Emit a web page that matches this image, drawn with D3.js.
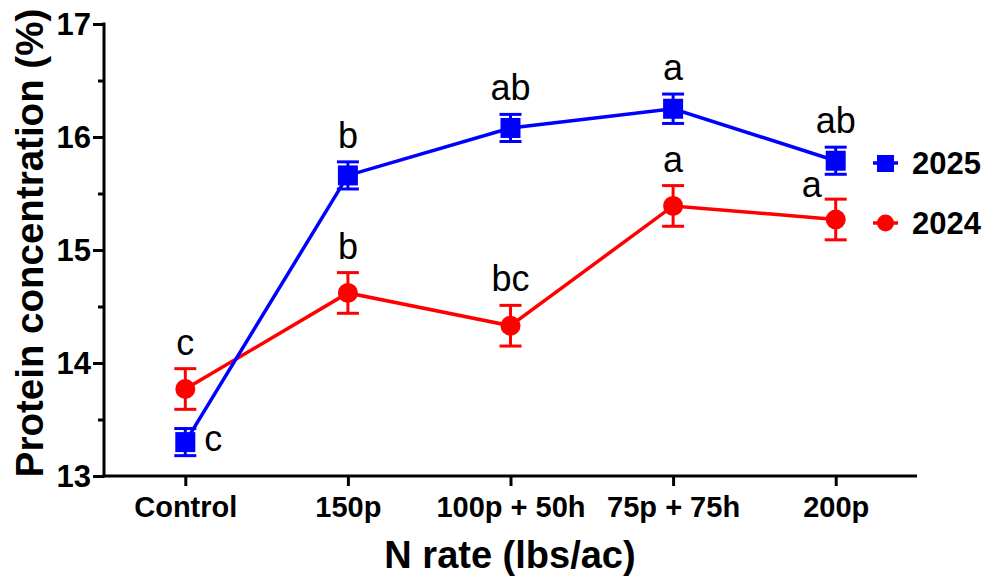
<!DOCTYPE html>
<html><head><meta charset="utf-8">
<script src="https://cdn.jsdelivr.net/npm/d3@7"></script>
<style>body{margin:0;background:#fff}svg{display:block}text{font-family:"Liberation Sans",Arial,sans-serif}</style>
</head><body><svg id="c" width="985" height="577"></svg>
<script>
const categories = ["Control","150p","100p + 50h","75p + 75h","200p"];
const mean2025 = [13.30,15.66,16.08,16.25,15.79];
const err2025  = [0.12,0.12,0.12,0.13,0.12];
const lab2025  = ["c","b","ab","a","ab"];
const mean2024 = [13.77,14.62,14.33,15.39,15.27];
const err2024  = [0.18,0.18,0.18,0.18,0.18];
const lab2024  = ["c","b","bc","a","a"];
const yTicks = [13,14,15,16,17];
const yMinor = [13.5,14.5,15.5,16.5];
const seriesNames = ["2025","2024"];

const svg = d3.select("#c");
const x = d3.scalePoint().domain(categories).range([104,917]).padding(0.5);
const y = d3.scaleLinear().domain([13,17]).range([476,24]);

// axes
const yAx = svg.append("g").attr("transform","translate(104,0)")
  .call(d3.axisLeft(y).tickValues(yTicks).tickFormat(d3.format("d")).tickSize(11).tickSizeOuter(0));
svg.append("g").attr("transform","translate(104,0)")
  .call(d3.axisLeft(y).tickValues(yMinor).tickFormat("").tickSize(6).tickSizeOuter(0))
  .select(".domain").remove();
const xAx = svg.append("g").attr("transform","translate(0,476)")
  .call(d3.axisBottom(x).tickSize(10).tickSizeOuter(0));
svg.selectAll(".domain").attr("stroke","#000").attr("stroke-width",3);
svg.selectAll(".tick line").attr("stroke","#000").attr("stroke-width",3);
yAx.selectAll(".domain").attr("d","M0,"+(y(17)-1.5)+"V"+(y(13)+1.5));
yAx.selectAll(".tick text").attr("font-size",31).attr("font-weight","bold").attr("fill","#000")
  .attr("x",-13).attr("dy","0.35em");
xAx.selectAll(".domain").attr("d","M"+(104-1.5)+",0H917");
xAx.selectAll(".tick text").attr("font-size",29).attr("font-weight","bold").attr("fill","#000")
  .attr("y",20).attr("dy","0.71em");

// titles
svg.append("text").attr("x",510).attr("y",568).attr("text-anchor","middle")
  .attr("font-size",38).attr("font-weight","bold").text("N rate (lbs/ac)");
svg.append("text").attr("transform","translate(43,243) rotate(-90)").attr("text-anchor","middle")
  .attr("font-size",38.5).attr("font-weight","bold").text("Protein concentration (%)");

function drawSeries(means, errs, color, shape){
  const g = svg.append("g");
  const line = d3.line().x((d,i)=>x(categories[i])).y(d=>y(d));
  g.append("path").datum(means).attr("d",line).attr("fill","none").attr("stroke",color).attr("stroke-width",3.5);
  means.forEach((m,i)=>{
    const cx = x(categories[i]), t = y(m+errs[i]), b = y(m-errs[i]);
    g.append("line").attr("x1",cx).attr("x2",cx).attr("y1",t).attr("y2",b).attr("stroke",color).attr("stroke-width",3);
    [t,b].forEach(yy=>g.append("line").attr("x1",cx-11).attr("x2",cx+11).attr("y1",yy).attr("y2",yy).attr("stroke",color).attr("stroke-width",3));
    if(shape==="square") g.append("rect").attr("x",cx-10).attr("y",y(m)-10).attr("width",20).attr("height",20).attr("fill",color);
    else g.append("circle").attr("cx",cx).attr("cy",y(m)).attr("r",10).attr("fill",color);
  });
}
drawSeries(mean2024, err2024, "#ff0000", "circle");
drawSeries(mean2025, err2025, "#0000ff", "square");

// significance letters
function letters(means, errs, labs, special){
  labs.forEach((l,i)=>{
    let lx = x(categories[i]), ly = y(means[i]+errs[i]) - 14;
    if(special[i]){ lx += special[i][0]; ly = y(means[i]) + special[i][1]; }
    svg.append("text").attr("x",lx).attr("y",ly).attr("text-anchor","middle")
      .attr("font-size",36).attr("fill","#000").text(l);
  });
}
letters(mean2025, err2025, lab2025, {0:[28,9]});
letters(mean2024, err2024, lab2024, {4:[-24,-22]});

// legend
const leg = [{n:seriesNames[0],c:"#0000ff",s:"square",y:163},{n:seriesNames[1],c:"#ff0000",s:"circle",y:223}];
leg.forEach(d=>{
  svg.append("line").attr("x1",873).attr("x2",898).attr("y1",d.y).attr("y2",d.y).attr("stroke",d.c).attr("stroke-width",3.5);
  if(d.s==="square") svg.append("rect").attr("x",877).attr("y",d.y-8).attr("width",17).attr("height",17).attr("fill",d.c);
  else svg.append("circle").attr("cx",885.5).attr("cy",d.y).attr("r",8.5).attr("fill",d.c);
  svg.append("text").attr("x",912).attr("y",d.y+11).attr("font-size",31).attr("font-weight","bold").text(d.n);
});
</script></body></html>
